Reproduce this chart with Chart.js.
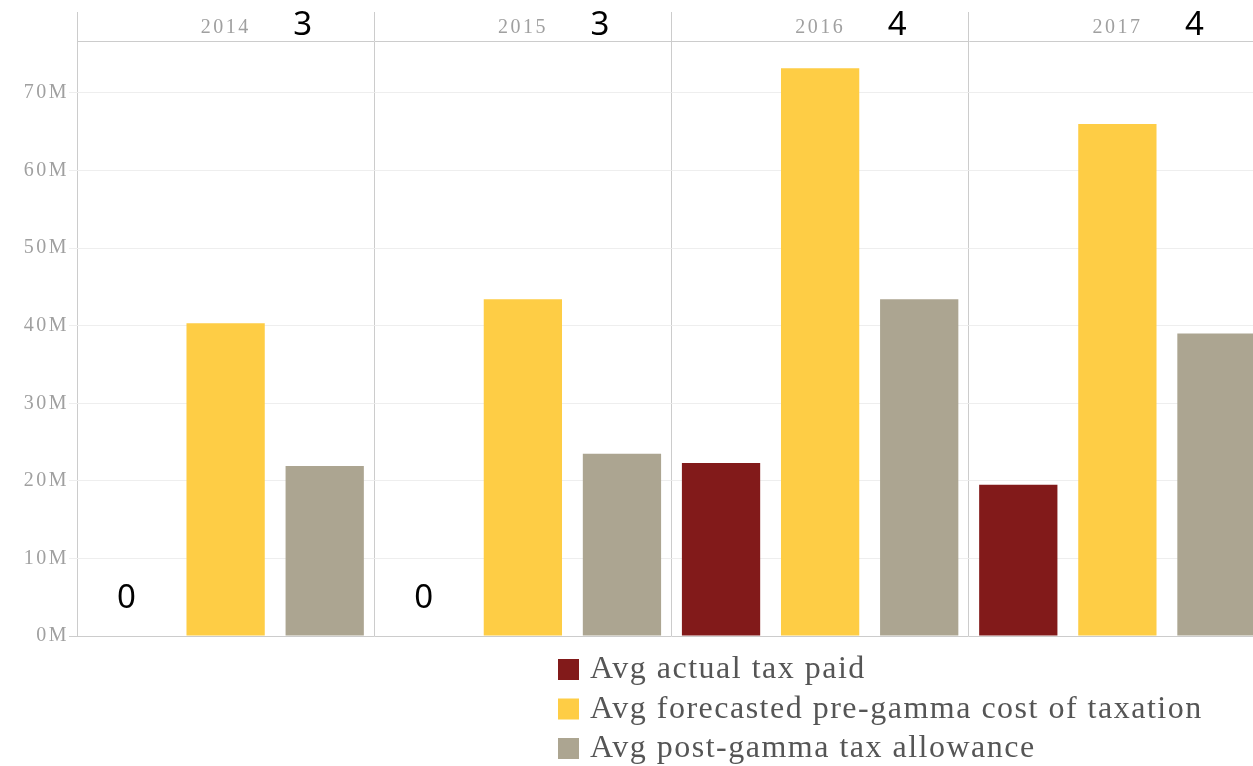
<!DOCTYPE html>
<html>
<head>
<meta charset="utf-8">
<script src="https://cdn.jsdelivr.net/npm/chart.js@4.4.0/dist/chart.umd.min.js"></script>
<style>
  html, body { margin: 0; padding: 0; background: #fff; overflow: hidden; }
  canvas { display: block; }
</style>
</head>
<body>
<canvas id="taxChart" width="1270" height="766"></canvas>
<script>
// Yearly panels and the three averaged measures (values in millions)
const years = ['2014', '2015', '2016', '2017'];
const seriesNames = [
  'Avg actual tax paid',
  'Avg forecasted pre-gamma cost of taxation',
  'Avg post-gamma tax allowance'
];
const actualTaxPaid      = [0, 0, 22.3, 19.5];
const forecastPreGamma   = [40.3, 43.4, 73.2, 66.0];
const postGammaAllowance = [21.9, 23.5, 43.4, 39.0];
const businessesPerYear  = [3, 3, 4, 4];
const yTickStep = 10;

const axisFont = { family: 'Liberation Serif', size: 20 };

// Slightly wider letter spacing for the serif axis labels
const spacingPlugin = {
  id: 'labelSpacing',
  beforeDraw(chart) { chart.ctx.letterSpacing = '2.5px'; }
};

// Counts beside each year, and the zero values of actual tax paid
const notesPlugin = {
  id: 'notes',
  afterDraw(chart) {
    const ctx = chart.ctx;
    const x = chart.scales.x, y = chart.scales.y;
    ctx.save();
    ctx.letterSpacing = '0px';
    ctx.fillStyle = '#000';
    ctx.font = '33px "Noto Sans"';
    ctx.textAlign = 'center';
    ctx.textBaseline = 'middle';
    businessesPerYear.forEach((n, i) => {
      ctx.fillText(String(n), x.getPixelForValue(i) + 77, 26);
    });
    const bars = chart.getDatasetMeta(0).data;
    actualTaxPaid.forEach((v, i) => {
      if (v === 0) ctx.fillText('0', bars[i].x, y.getPixelForValue(0) - 37);
    });
    ctx.restore();
  }
};

// Legend stacked in one column under the plot
const legendPlugin = {
  id: 'columnLegend',
  afterDraw(chart) {
    const ctx = chart.ctx;
    ctx.save();
    ctx.letterSpacing = '1.5px';
    ctx.font = '32px "Liberation Serif"';
    ctx.textAlign = 'left';
    ctx.textBaseline = 'middle';
    chart.data.datasets.forEach((ds, i) => {
      const cy = 669 + i * 39.5;
      ctx.fillStyle = ds.backgroundColor;
      ctx.fillRect(558, cy - 10, 21, 21);
      ctx.fillStyle = '#555';
      ctx.fillText(ds.label, 590, cy + 1);
    });
    ctx.restore();
  }
};

new Chart(document.getElementById('taxChart'), {
  type: 'bar',
  data: {
    labels: years,
    datasets: [
      { label: seriesNames[0], data: actualTaxPaid,      backgroundColor: '#821a1a' },
      { label: seriesNames[1], data: forecastPreGamma,   backgroundColor: '#fecd45' },
      { label: seriesNames[2], data: postGammaAllowance, backgroundColor: '#aca591' }
    ]
  },
  options: {
    responsive: false,
    animation: false,
    categoryPercentage: 1,
    barPercentage: 0.79,
    layout: { padding: { top: 0, left: 0, right: 4, bottom: 130 } },
    plugins: {
      legend: { display: false },
      tooltip: { enabled: false }
    },
    scales: {
      x: {
        position: 'top',
        afterFit(s) { s.height = 41; },
        border: { display: true, color: '#cccccc' },
        grid: { offset: true, color: '#cccccc', tickLength: 29 },
        ticks: { padding: -28, color: '#a0a0a0', font: axisFont }
      },
      y: {
        min: 0,
        max: 76.7,
        afterFit(s) { s.width = 77; },
        border: { display: false },
        grid: {
          color: c => (c.tick && c.tick.value === 0) ? '#cccccc' : '#eeeeee',
          tickLength: 8
        },
        ticks: {
          stepSize: yTickStep,
          includeBounds: false,
          padding: 0,
          color: '#a0a0a0',
          font: axisFont,
          callback: v => v + 'M'
        }
      }
    }
  },
  plugins: [spacingPlugin, notesPlugin, legendPlugin]
});
</script>
</body>
</html>
